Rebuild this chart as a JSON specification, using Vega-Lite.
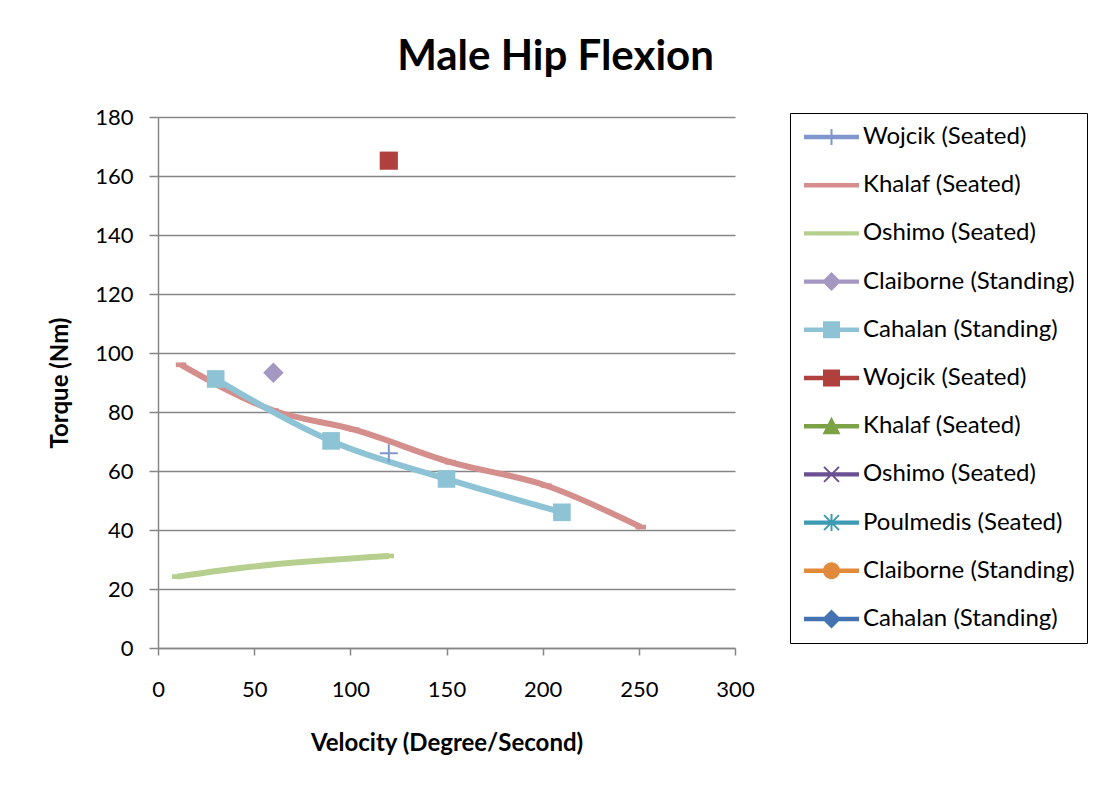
{
  "$schema": "https://vega.github.io/schema/vega-lite/v6.json",
  "width": 577,
  "height": 531,
  "autosize": {"type": "none"},
  "padding": {"left": 158, "top": 117, "right": 359, "bottom": 139},
  "background": "white",
  "config": {"view": {"stroke": null}, "font": "Lato"},
  "title": {"text": "Male Hip Flexion", "fontSize": 42, "fontWeight": "bold", "font": "Lato", "color": "black", "anchor": "middle", "dx": 109, "offset": 27},
  "data": {"values": [
    {"series": "1", "study": "Wojcik (Seated)", "velocity": 120, "torque": 66},
    {"series": "2", "study": "Khalaf (Seated)", "velocity": 12, "torque": 96},
    {"series": "2", "study": "Khalaf (Seated)", "velocity": 60, "torque": 80.5},
    {"series": "2", "study": "Khalaf (Seated)", "velocity": 102, "torque": 74},
    {"series": "2", "study": "Khalaf (Seated)", "velocity": 152, "torque": 63},
    {"series": "2", "study": "Khalaf (Seated)", "velocity": 202, "torque": 55},
    {"series": "2", "study": "Khalaf (Seated)", "velocity": 251, "torque": 41},
    {"series": "3", "study": "Oshimo (Seated)", "velocity": 10, "torque": 24.2},
    {"series": "3", "study": "Oshimo (Seated)", "velocity": 45, "torque": 27.3},
    {"series": "3", "study": "Oshimo (Seated)", "velocity": 120, "torque": 31.2},
    {"series": "4", "study": "Claiborne (Standing)", "velocity": 60, "torque": 93.3},
    {"series": "5", "study": "Cahalan (Standing)", "velocity": 30, "torque": 91.2},
    {"series": "5", "study": "Cahalan (Standing)", "velocity": 90, "torque": 70.2},
    {"series": "5", "study": "Cahalan (Standing)", "velocity": 150, "torque": 57.3},
    {"series": "5", "study": "Cahalan (Standing)", "velocity": 210, "torque": 46},
    {"series": "6", "study": "Wojcik (Seated)", "velocity": 120, "torque": 165.2}
  ]},
  "encoding": {
    "x": {"field": "velocity", "type": "quantitative",
      "scale": {"domain": [0, 300], "nice": false, "zero": false},
      "axis": {"title": "Velocity (Degree/Second)", "values": [0, 50, 100, 150, 200, 250, 300], "grid": false,
        "domainColor": "#868686", "domainWidth": 1.5, "tickColor": "#868686", "tickWidth": 1.5, "tickSize": 7,
        "labelFont": "Lato", "labelFontSize": 22, "labelColor": "black", "labelPadding": 24, "labelFlush": false,
        "titleFont": "Lato", "titleFontSize": 24, "titleFontWeight": "bold", "titleColor": "black",
        "titleX": 288.5, "titleY": 95, "titleAlign": "center", "titleBaseline": "middle"}},
    "y": {"field": "torque", "type": "quantitative",
      "scale": {"domain": [0, 180], "nice": false},
      "axis": {"title": "Torque (Nm)", "values": [0, 20, 40, 60, 80, 100, 120, 140, 160, 180], "grid": true,
        "gridColor": "#868686", "gridWidth": 1.5,
        "domainColor": "#868686", "domainWidth": 1.5, "tickColor": "#868686", "tickWidth": 1.5, "tickSize": 9,
        "labelFont": "Lato", "labelFontSize": 22, "labelColor": "black", "labelPadding": 16, "labelFlush": false,
        "titleFont": "Lato", "titleFontSize": 24, "titleFontWeight": "bold", "titleColor": "black",
        "titleX": -98, "titleY": 265.5, "titleAngle": 270, "titleAlign": "center", "titleBaseline": "middle"}}
  },
  "layer": [
    {"transform": [{"filter": "datum.series == '2'"}],
     "mark": {"type": "line", "color": "#D48E8C", "strokeWidth": 6, "interpolate": "monotone", "strokeCap": "butt"}},
    {"transform": [{"filter": "datum.series == '2'"}],
     "mark": {"type": "point", "filled": true, "color": "#D48E8C", "opacity": 1, "shape": "M-1,-0.45H1V0.45H-1Z", "size": 110, "strokeWidth": 0}},
    {"transform": [{"filter": "datum.series == '3'"}],
     "mark": {"type": "line", "color": "#B6CF8E", "strokeWidth": 6, "interpolate": "monotone", "strokeCap": "butt"}},
    {"transform": [{"filter": "datum.series == '3'"}],
     "mark": {"type": "point", "filled": true, "color": "#B6CF8E", "opacity": 1, "shape": "M-1,-0.45H1V0.45H-1Z", "size": 110, "strokeWidth": 0}},
    {"transform": [{"filter": "datum.series == '5'"}],
     "mark": {"type": "line", "color": "#8DC3D5", "strokeWidth": 6, "interpolate": "monotone"}},
    {"transform": [{"filter": "datum.series == '5'"}],
     "mark": {"type": "point", "filled": true, "color": "#8DC3D5", "opacity": 1, "shape": "square", "size": 310, "strokeWidth": 0}},
    {"transform": [{"filter": "datum.series == '4'"}],
     "mark": {"type": "point", "filled": true, "color": "#A497C2", "opacity": 1, "shape": "diamond", "size": 420, "strokeWidth": 0}},
    {"transform": [{"filter": "datum.series == '1'"}],
     "mark": {"type": "point", "filled": false, "color": "#8097CE", "opacity": 1, "shape": "M-1,0H1M0,-1V1", "size": 324, "strokeWidth": 2}},
    {"transform": [{"filter": "datum.series == '6'"}],
     "mark": {"type": "point", "filled": true, "color": "#B0403D", "opacity": 1, "shape": "square", "size": 330, "strokeWidth": 0}},
    {"transform": [{"filter": "false"}],
     "mark": {"type": "point", "filled": true, "opacity": 1, "size": 400, "strokeWidth": 0},
     "encoding": {
       "color": {"field": "series", "type": "nominal",
         "scale": {"domain": ["1","2","3","4","5","6","7","8","9","10","11"],
           "range": ["#8097CE","#D48E8C","#B6CF8E","#A497C2","#8DC3D5","#B0403D","#7BA346","#6C5094","#3E9BB4","#E28A3C","#4572B0"]},
         "legend": {"title": null, "orient": "none", "legendX": 632, "legendY": -4, "padding": 12,
           "strokeColor": "black", "fillColor": "white",
           "symbolSize": 400, "symbolStrokeWidth": 0, "labelOffset": 37, "rowPadding": 24.2,
           "labelFont": "Lato", "labelFontSize": 24, "labelColor": "black", "labelLimit": 400,
           "labelExpr": "['Wojcik (Seated)','Khalaf (Seated)','Oshimo (Seated)','Claiborne (Standing)','Cahalan (Standing)','Wojcik (Seated)','Khalaf (Seated)','Oshimo (Seated)','Poulmedis (Seated)','Claiborne (Standing)','Cahalan (Standing)'][toNumber(datum.value)-1]"}},
       "shape": {"field": "series", "type": "nominal",
         "scale": {"domain": ["1","2","3","4","5","6","7","8","9","10","11"],
           "range": [
             "M-1,-0.22H4.5V0.22H-1Z M1.65,-0.8H1.85V0.8H1.65Z",
             "M-1,-0.22H4.5V0.22H-1Z",
             "M-1,-0.22H4.5V0.22H-1Z",
             "M-1,-0.22H4.5V0.22H-1Z M1.75,-0.95L2.7,0L1.75,0.95L0.8,0Z",
             "M-1,-0.22H4.5V0.22H-1Z M0.9,-0.85H2.6V0.85H0.9Z",
             "M-1,-0.22H4.5V0.22H-1Z M0.9,-0.85H2.6V0.85H0.9Z",
             "M-1,-0.22H4.5V0.22H-1Z M1.75,-0.95L2.65,0.8H0.85Z",
             "M-1,-0.22H4.5V0.22H-1Z M0.93,-0.68L1.07,-0.82L2.57,0.68L2.43,0.82Z M2.43,-0.82L2.57,-0.68L1.07,0.82L0.93,0.68Z",
             "M-1,-0.22H4.5V0.22H-1Z M0.93,-0.68L1.07,-0.82L2.57,0.68L2.43,0.82Z M2.43,-0.82L2.57,-0.68L1.07,0.82L0.93,0.68Z M1.65,-0.85H1.85V0.85H1.65Z",
             "M-1,-0.22H4.5V0.22H-1Z M0.9,0A0.85,0.85 0 1,1 2.6,0A0.85,0.85 0 1,1 0.9,0Z",
             "M-1,-0.22H4.5V0.22H-1Z M1.75,-0.95L2.7,0L1.75,0.95L0.8,0Z"
           ]},
         "legend": {"title": null, "orient": "none", "legendX": 632, "legendY": -4, "padding": 12,
           "strokeColor": "black", "fillColor": "white",
           "symbolSize": 400, "symbolStrokeWidth": 0, "labelOffset": 37, "rowPadding": 24.2,
           "labelFont": "Lato", "labelFontSize": 24, "labelColor": "black", "labelLimit": 400,
           "labelExpr": "['Wojcik (Seated)','Khalaf (Seated)','Oshimo (Seated)','Claiborne (Standing)','Cahalan (Standing)','Wojcik (Seated)','Khalaf (Seated)','Oshimo (Seated)','Poulmedis (Seated)','Claiborne (Standing)','Cahalan (Standing)'][toNumber(datum.value)-1]"}}
     }}
  ]
}
